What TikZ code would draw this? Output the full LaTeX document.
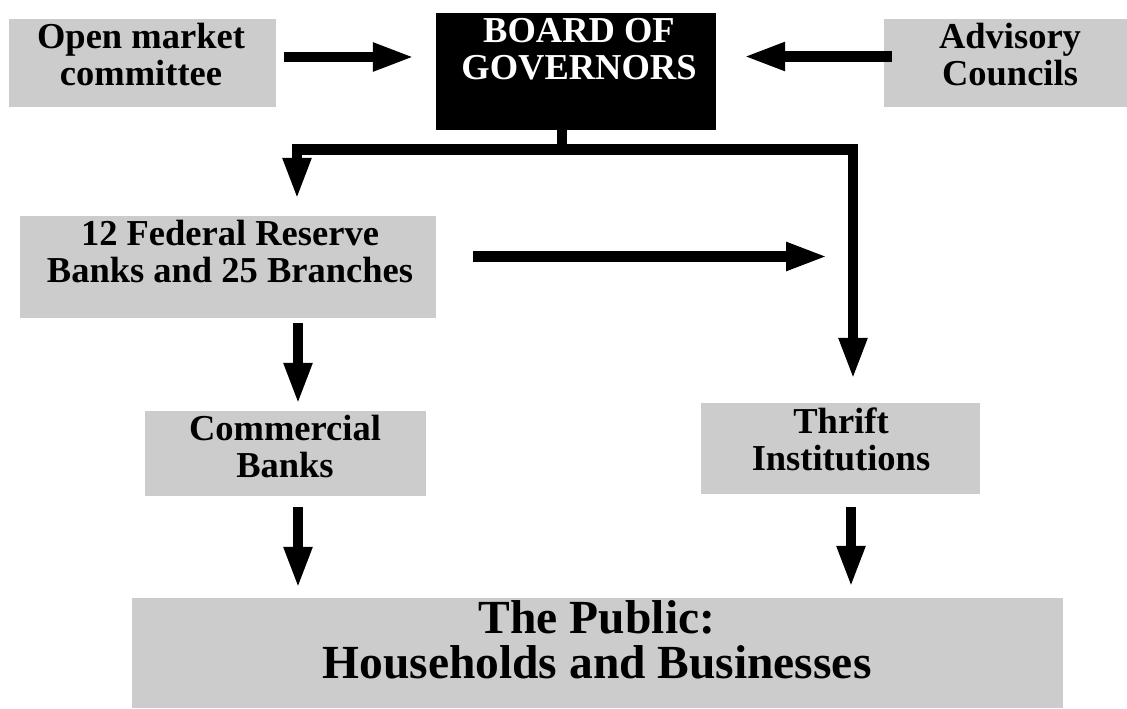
\documentclass[tikz,border=0pt]{standalone}
\usepackage{fontspec}
\setmainfont{Liberation Serif}
\usetikzlibrary{arrows.meta}
\definecolor{boxgray}{HTML}{CCCCCC}
\begin{document}
\begin{tikzpicture}[x=1pt,y=-1pt,
  gbox/.style 2 args={fill=boxgray,draw=none,inner sep=0pt,minimum width=#1,minimum height=#2},
  bbox/.style 2 args={fill=black,draw=none,inner sep=0pt,minimum width=#1,minimum height=#2},
  txt/.style={font=\bfseries\fontsize{36.5}{37}\selectfont,align=center,anchor=base,inner sep=0pt},
  bigtxt/.style={font=\bfseries\fontsize{47.5}{45}\selectfont,align=center,anchor=base,inner sep=0pt},
  arr/.style={line width=10.5pt,line join=miter,-{Triangle[length=42pt,width=26pt]}}]
\useasboundingbox (0,0) rectangle (1127,709);
% boxes
\node[gbox={267pt}{88pt}] (om) at (142.5,63) {};
\node[bbox={280pt}{117pt}] (bog) at (576,71.5) {};
\node[gbox={243pt}{88pt}] (adv) at (1005.5,63) {};
\node[gbox={416pt}{102pt}] (fed) at (228,267) {};
\node[gbox={281pt}{85pt}] (com) at (285.5,453.5) {};
\node[gbox={279pt}{91pt}] (thr) at (840.5,448.5) {};
\node[gbox={931pt}{110pt}] (pub) at (597.5,653) {};
% texts
\node[txt] (omt) at (141,85) {Open market\\committee};
\node[txt,text=white] (bogt) at (579,80) {BOARD OF\\GOVERNORS};
\node[txt] (advt) at (1010,85) {Advisory\\Councils};
\node[txt] (fedt) at (230,282) {12 Federal Reserve\\Banks and 25 Branches};
\node[txt] (comt) at (285,477) {Commercial\\Banks};
\node[txt] (thrt) at (841,470) {Thrift\\Institutions};
\node[bigtxt] (pubt) at (597,678) {The Public:\\Households and Businesses};
% connectors
\draw[arr,shorten <=8pt,shorten >=21pt] ([yshift=6pt]om.east) -- ([yshift=14.5pt]bog.west);
\draw[arr,shorten <=-8pt,shorten >=27pt] ([yshift=6.5pt]adv.west) -- ([yshift=15pt]bog.east);
\coordinate (j) at ([xshift=-14pt,yshift=-19.5pt]bog.south);
\draw[arr] ([xshift=-14pt]bog.south) -- (j) -| ([xshift=69pt,yshift=16pt]fed.north);
\draw[arr] (j) -| ([xshift=12.5pt,yshift=23pt]thr.north);
\coordinate (fr) at ([yshift=10.5pt]fed.east);
\coordinate (tr) at ([xshift=12.5pt]thr.north);
\draw[arr,shorten <=37pt,shorten >=25pt] (fr) -- (fr -| tr);
\draw[arr,shorten <=5pt,shorten >=6pt] ([xshift=70pt]fed.south) -- ([xshift=12.5pt]com.north);
\draw[arr,shorten <=11pt,shorten >=9pt] ([xshift=12.5pt]com.south) -- ([xshift=-299.5pt]pub.north);
\draw[arr,shorten <=13pt,shorten >=10pt] ([xshift=10.5pt]thr.south) -- ([xshift=253.5pt]pub.north);
\end{tikzpicture}
\end{document}
